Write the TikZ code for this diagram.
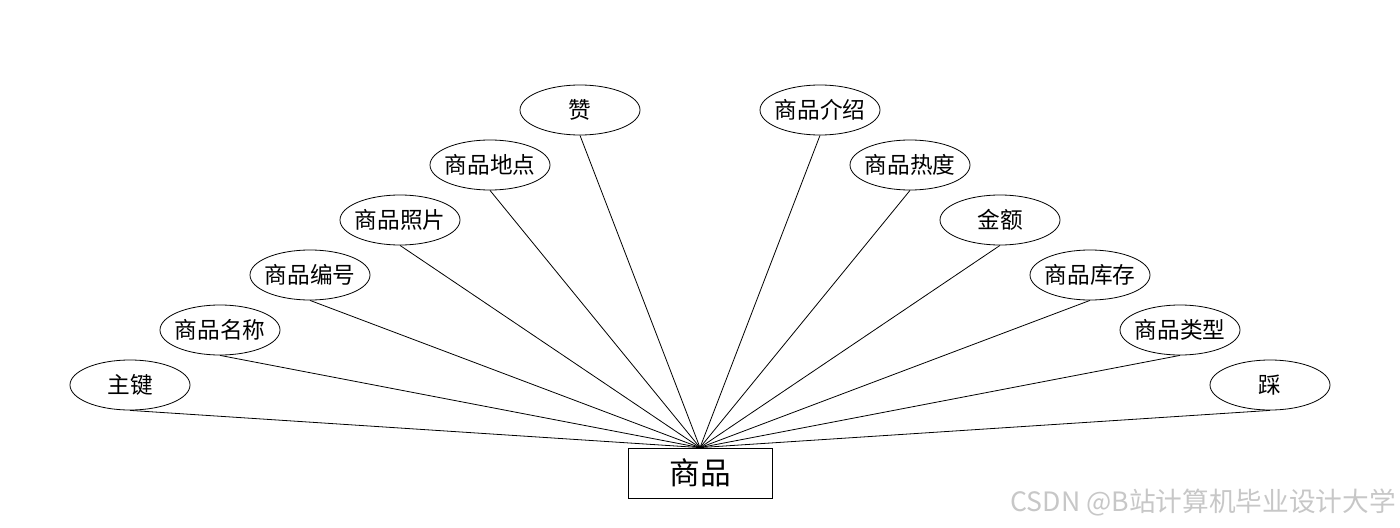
\documentclass[tikz,border=0pt]{standalone}
\usepackage{fontspec}
\setmainfont{Noto Sans CJK SC}
\usetikzlibrary{shapes.geometric}
\newcommand\zlbl[1]{\makebox[0pt][c]{#1}}
\begin{document}
\begin{tikzpicture}[x=0.75pt,y=-0.75pt,
  attr/.style={draw=black,ellipse,line width=0.6pt,minimum width=90pt,minimum height=37.5pt,inner sep=0pt,font=\fontsize{17}{19}\selectfont},
  ent/.style={draw=black,rectangle,line width=0.6pt,minimum width=108pt,minimum height=37.5pt,inner sep=0pt,font=\fontsize{23}{26}\selectfont},
  link/.style={draw=black,line width=0.6pt}]
\useasboundingbox (0,0) rectangle (1400,528);
\node[ent] (e) at (700,473) {商品};
\node[attr] (a1) at (130,385) {\zlbl{主键}};
\node[attr] (a2) at (220,330) {\zlbl{商品名称}};
\node[attr] (a3) at (310,275) {\zlbl{商品编号}};
\node[attr] (a4) at (400,220) {\zlbl{商品照片}};
\node[attr] (a5) at (490,165) {\zlbl{商品地点}};
\node[attr] (a6) at (580,110) {\zlbl{赞}};
\node[attr] (b1) at (820,110) {\zlbl{商品介绍}};
\node[attr] (b2) at (910,165) {\zlbl{商品热度}};
\node[attr] (b3) at (1000,220) {\zlbl{金额}};
\node[attr] (b4) at (1090,275) {\zlbl{商品库存}};
\node[attr] (b5) at (1180,330) {\zlbl{商品类型}};
\node[attr] (b6) at (1270,385) {\zlbl{踩}};
\foreach \n in {a1,a2,a3,a4,a5,a6,b1,b2,b3,b4,b5,b6}
  \draw[link] (\n.south) -- (e.north);
\node[text=black!22,font=\fontsize{20}{22}\selectfont,anchor=east,inner sep=0pt] (wm) at (1396,502) {CSDN @B站计算机毕业设计大学};
\end{tikzpicture}
\end{document}
